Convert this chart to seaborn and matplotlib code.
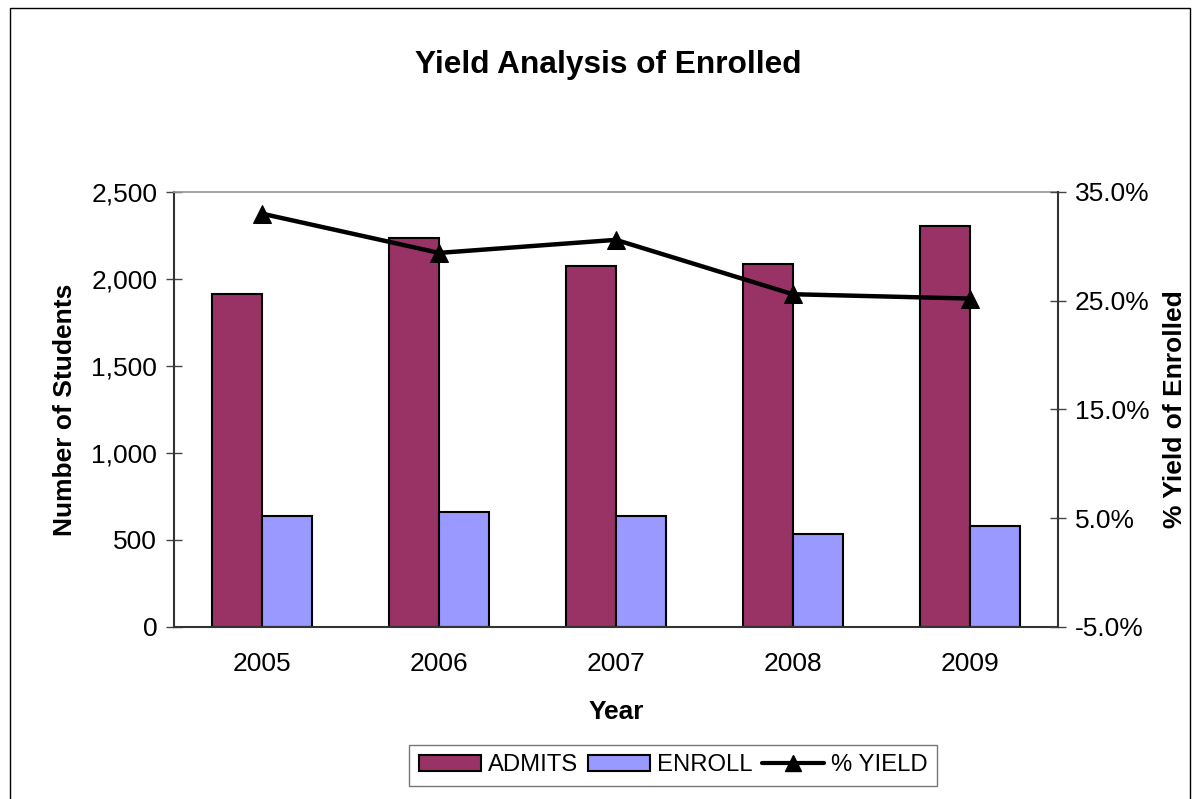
import numpy as np
import matplotlib
matplotlib.use("Agg")
import matplotlib.pyplot as plt
from matplotlib.patches import Rectangle, Patch
from matplotlib.lines import Line2D
from matplotlib.ticker import FuncFormatter, FixedLocator
import pandas as pd
import seaborn as sns

sns.set_theme(style="white")
plt.rcParams['font.family'] = ['Liberation Sans', 'DejaVu Sans']
plt.rcParams['text.color'] = 'black'
plt.rcParams['axes.labelcolor'] = 'black'
plt.rcParams['xtick.color'] = 'black'
plt.rcParams['ytick.color'] = 'black'

# datos
years = ["2005", "2006", "2007", "2008", "2009"]
admits = [1913, 2236, 2075, 2086, 2305]
enroll = [638, 661, 638, 534, 580]
pct_yield = [33.0, 29.4, 30.6, 25.6, 25.2]

df = pd.DataFrame({
    "Year": years * 2,
    "Students": admits + enroll,
    "Serie": ["ADMITS"] * len(years) + ["ENROLL"] * len(years),
})

fig = plt.figure(figsize=(11.98, 7.99), dpi=100)
ax = fig.add_axes([0.1452, 0.2153, 0.7379, 0.5444])

sns.barplot(data=df, x="Year", y="Students", hue="Serie",
            palette={"ADMITS": "#993366", "ENROLL": "#9999FF"},
            width=0.566, edgecolor="black", linewidth=1.5,
            saturation=1, ax=ax, legend=False)
ax.set_xlim(-0.5, len(years) - 0.5)
ax.set_ylim(0, 2500)
ax.yaxis.set_major_locator(FixedLocator([0, 500, 1000, 1500, 2000, 2500]))
ax.yaxis.set_major_formatter(FuncFormatter(lambda v, p: f"{v:,.0f}"))
ax.set_xlabel("Year", fontsize=19, fontweight="bold", labelpad=17)
ax.set_ylabel("Number of Students", fontsize=19, fontweight="bold", labelpad=10)

# ticks de categoria entre barras
ax.set_xticks(np.arange(len(years)))
ax.set_xticklabels(years)
ax.set_xticks(np.arange(len(years) + 1) - 0.5, minor=True)
ax.tick_params(axis="x", which="major", length=0, labelsize=19, pad=18)
ax.tick_params(axis="x", which="minor", direction="inout", length=12, width=1, color="#444444")
ax.tick_params(axis="y", direction="inout", length=12, width=1, color="#444444", labelsize=19, pad=6)

for s in ["left", "bottom"]:
    ax.spines[s].set_color("#333333")
    ax.spines[s].set_linewidth(1.5)
ax.spines["top"].set_color("#999999")
ax.spines["right"].set_color("#333333")

# eje derecho
ax2 = ax.twinx()
xs = np.arange(len(years))
sns.lineplot(x=xs, y=pct_yield, ax=ax2, color="black", linewidth=3.2,
             marker="^", markersize=13, markeredgecolor="black")
ax2.set_ylim(-5, 35)
ax2.yaxis.set_major_locator(FixedLocator([-5, 5, 15, 25, 35]))
ax2.yaxis.set_major_formatter(FuncFormatter(lambda v, p: f"{v:.1f}%"))
ax2.tick_params(axis="y", direction="inout", length=12, width=1, color="#444444", labelsize=19, pad=6)
ax2.set_ylabel("% Yield of Enrolled", fontsize=19, fontweight="bold", labelpad=10)
for s in ax2.spines.values():
    s.set_visible(False)
ax2.spines["right"].set_visible(True)
ax2.spines["right"].set_color("#333333")
ax2.spines["right"].set_linewidth(1.5)
ax2.grid(False)
ax.grid(False)

fig.suptitle("Yield Analysis of Enrolled", fontsize=22.8, fontweight="bold", x=0.508, y=0.937)

# leyenda
handles = [
    Patch(facecolor="#993366", edgecolor="black", linewidth=1.5, label="ADMITS"),
    Patch(facecolor="#9999FF", edgecolor="black", linewidth=1.5, label="ENROLL"),
    Line2D([0], [0], color="black", linewidth=3, marker="^", markersize=11, label="% YIELD"),
]
leg = fig.legend(handles=handles, loc="center", bbox_to_anchor=(0.562, 0.042), ncol=3,
                 fontsize=17.2, frameon=True, fancybox=False, edgecolor="#555555",
                 handlelength=2.6, handletextpad=0.3, columnspacing=0.4, borderpad=0.4)
leg.get_frame().set_linewidth(1)

# marco exterior
fig.patches.append(Rectangle((10 / 1198, -0.05), 1180 / 1198, 1.05 - 8 / 799,
                             transform=fig.transFigure, fill=False,
                             edgecolor="black", linewidth=1))

fig.savefig("out.png", dpi=100)
